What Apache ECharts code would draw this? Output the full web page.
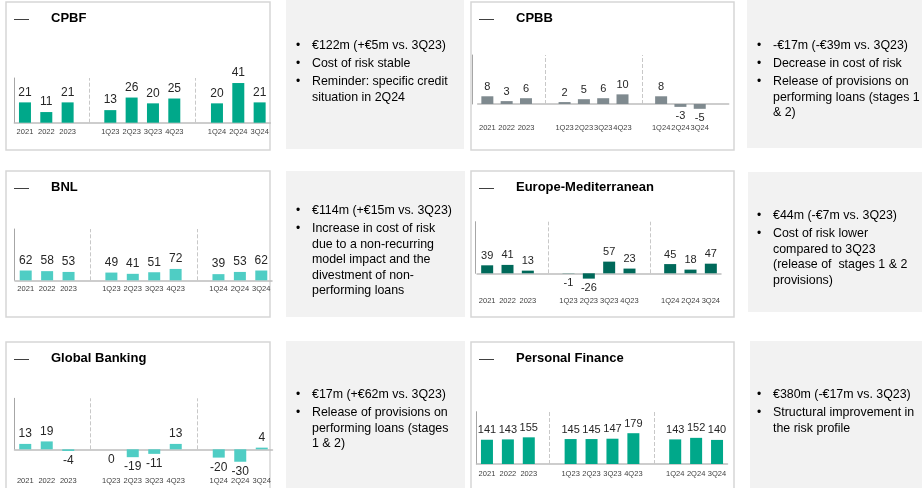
<!DOCTYPE html>
<html>
<head>
<meta charset="utf-8">
<script src="https://cdn.jsdelivr.net/npm/echarts@6/dist/echarts.min.js"></script>
<style>
  html, body { margin: 0; padding: 0; background: #fff; }
  #main { width: 922px; height: 488px; }
</style>
</head>
<body>
<div id="main"></div>
<script>
// categories: blank slots separate the yearly, 2023 quarterly and 2024 quarterly groups
var categories = ['2021', '2022', '2023', '', '1Q23', '2Q23', '3Q23', '4Q23', '', '1Q24', '2Q24', '3Q24'];

var cpbfValues = [21, 11, 21, null, 13, 26, 20, 25, null, 20, 41, 21];
var cpbbValues = [8, 3, 6, null, 2, 5, 6, 10, null, 8, -3, -5];
var bnlValues = [62, 58, 53, null, 49, 41, 51, 72, null, 39, 53, 62];
var europeMedValues = [39, 41, 13, null, -1, -26, 57, 23, null, 45, 18, 47];
var globalBankingValues = [13, 19, -4, null, 0, -19, -11, 13, null, -20, -30, 4];
var personalFinanceValues = [141, 143, 155, null, 145, 145, 147, 179, null, 143, 152, 140];

// bullet notes, one array per bullet, one string per printed line
var cpbfNotes = [['€122m (+€5m vs. 3Q23)'], ['Cost of risk stable'], ['Reminder: specific credit', 'situation in 2Q24']];
var cpbbNotes = [['-€17m (-€39m vs. 3Q23)'], ['Decrease in cost of risk'], ['Release of provisions on', 'performing loans (stages 1', '& 2)']];
var bnlNotes = [['€114m (+€15m vs. 3Q23)'], ['Increase in cost of risk', 'due to a non-recurring', 'model impact and the', 'divestment of non-', 'performing loans']];
var europeMedNotes = [['€44m (-€7m vs. 3Q23)'], ['Cost of risk lower', 'compared to 3Q23', '(release of  stages 1 & 2', 'provisions)']];
var globalBankingNotes = [['€17m (+€62m vs. 3Q23)'], ['Release of provisions on', 'performing loans (stages', '1 & 2)']];
var personalFinanceNotes = [['€380m (-€17m vs. 3Q23)'], ['Structural improvement in', 'the risk profile']];

var fontFamily = '"Liberation Sans", Arial, sans-serif';
var chart = echarts.init(document.getElementById('main'), null, { renderer: 'canvas' });

var panels = [
    { title: 'CPBF', values: cpbfValues, notes: cpbfNotes, color: '#00A88A',
      box: [6, 2, 264, 148], grid: [14.3, 78, 256, 44.7], yMax: 46.2, yOffset: 0,
      labelMargin: 5, valueFont: 12, extraSlot: false,
      noteBox: [286, 0, 178, 149], noteTop: 46, bulletX: 296, textX: 312 },
    { title: 'CPBB', values: cpbbValues, notes: cpbbNotes, color: '#7F8A8F',
      box: [471, 2, 263, 148], grid: [477.7, 55, 251, 49], yMax: 50.8, yOffset: 5.4,
      labelMargin: 20, valueFont: 11, extraSlot: true,
      noteBox: [747, 0, 175, 148], noteTop: 46, bulletX: 757, textX: 773 },
    { title: 'BNL', values: bnlValues, notes: bnlNotes, color: '#4FCDC4',
      box: [6, 171, 264, 146], grid: [15, 229, 257, 51.3], yMax: 325, yOffset: 0.7,
      labelMargin: 5, valueFont: 12, extraSlot: false,
      noteBox: [286, 171, 179, 146], noteTop: 211, bulletX: 296, textX: 312 },
    { title: 'Europe-Mediterranean', values: europeMedValues, notes: europeMedNotes, color: '#00695A',
      box: [471, 171, 263, 146], grid: [477, 221.7, 244, 51.6], yMax: 252, yOffset: 2,
      labelMargin: 23.5, valueFont: 11, extraSlot: false,
      noteBox: [748, 172, 174, 140], noteTop: 216, bulletX: 757, textX: 773 },
    { title: 'Global Banking', values: globalBankingValues, notes: globalBankingNotes, color: '#4FCDC4',
      box: [6, 342, 264, 150], grid: [14.5, 398.3, 258, 51], yMax: 123, yOffset: 0,
      labelMargin: 27.5, valueFont: 12, extraSlot: false,
      noteBox: [286, 341, 179, 150], noteTop: 395, bulletX: 296, textX: 312 },
    { title: 'Personal Finance', values: personalFinanceValues, notes: personalFinanceNotes, color: '#00A88A',
      box: [471, 342, 263, 150], grid: [476.5, 411.7, 251, 52.3], yMax: 304, yOffset: 0,
      labelMargin: 6, valueFont: 11, extraSlot: false,
      noteBox: [750, 341, 172, 150], noteTop: 395, bulletX: 757, textX: 773 }
];

var grids = [], xAxes = [], yAxes = [], series = [], graphics = [];

panels.forEach(function (p, i) {
    // frames and grey note boxes
    graphics.push({ type: 'rect', z: -10, shape: { x: p.box[0], y: p.box[1], width: p.box[2], height: p.box[3] },
        style: { fill: '#fff', stroke: '#D6D6D6', lineWidth: 1.5 } });
    graphics.push({ type: 'rect', z: -10, shape: { x: p.noteBox[0], y: p.noteBox[1], width: p.noteBox[2], height: p.noteBox[3] },
        style: { fill: '#F2F2F2' } });
    graphics.push({ type: 'line', shape: { x1: p.box[0] + 8, y1: p.box[1] + 17.5, x2: p.box[0] + 23, y2: p.box[1] + 17.5 },
        style: { stroke: '#404040', lineWidth: 1 } });
    graphics.push({ type: 'text', x: p.box[0] + 45, y: p.box[1] + 16,
        style: { text: p.title, font: 'bold 13px ' + fontFamily, fill: '#000', verticalAlign: 'middle' } });

    var y = p.noteTop;
    p.notes.forEach(function (para) {
        graphics.push({ type: 'text', x: p.bulletX, y: y,
            style: { text: '•', font: '12px ' + fontFamily, fill: '#000', verticalAlign: 'middle' } });
        para.forEach(function (line) {
            graphics.push({ type: 'text', x: p.textX, y: y,
                style: { text: line, font: '12.4px ' + fontFamily, fill: '#000', verticalAlign: 'middle' } });
            y += 15.5;
        });
        y += 2.5;
    });

    // grid bottom sits on the zero line, negative bars hang below it
    grids.push({ left: p.grid[0], top: p.grid[1], width: p.grid[2], height: p.grid[3] });
    xAxes.push({
        type: 'category', gridIndex: i,
        data: p.extraSlot ? categories.concat(['']) : categories,
        axisLine: { lineStyle: { color: '#BDBDBD', width: 1.5 } },
        axisTick: { show: false },
        axisLabel: { interval: 0, fontSize: 7.5, color: '#404040', fontFamily: fontFamily, margin: p.labelMargin }
    });
    yAxes.push({
        type: 'value', gridIndex: i, min: 0, max: p.yMax, offset: p.yOffset,
        axisLine: { show: true, lineStyle: { color: '#A6A6A6', width: 1 } },
        axisTick: { show: false }, axisLabel: { show: false }, splitLine: { show: false }
    });
    series.push({
        type: 'bar', xAxisIndex: i, yAxisIndex: i, data: p.values, barWidth: 12, clip: false,
        itemStyle: { color: p.color },
        label: { show: true, position: 'outside', distance: 4, fontSize: p.valueFont, color: '#262626', fontFamily: fontFamily },
        markLine: {
            silent: true, symbol: 'none', label: { show: false },
            lineStyle: { type: 'dashed', color: '#C8C8C8', width: 1 },
            data: [{ xAxis: 3 }, { xAxis: 8 }]
        }
    });
});

chart.setOption({
    animation: false,
    grid: grids,
    xAxis: xAxes,
    yAxis: yAxes,
    series: series,
    graphic: graphics
});
</script>
</body>
</html>
